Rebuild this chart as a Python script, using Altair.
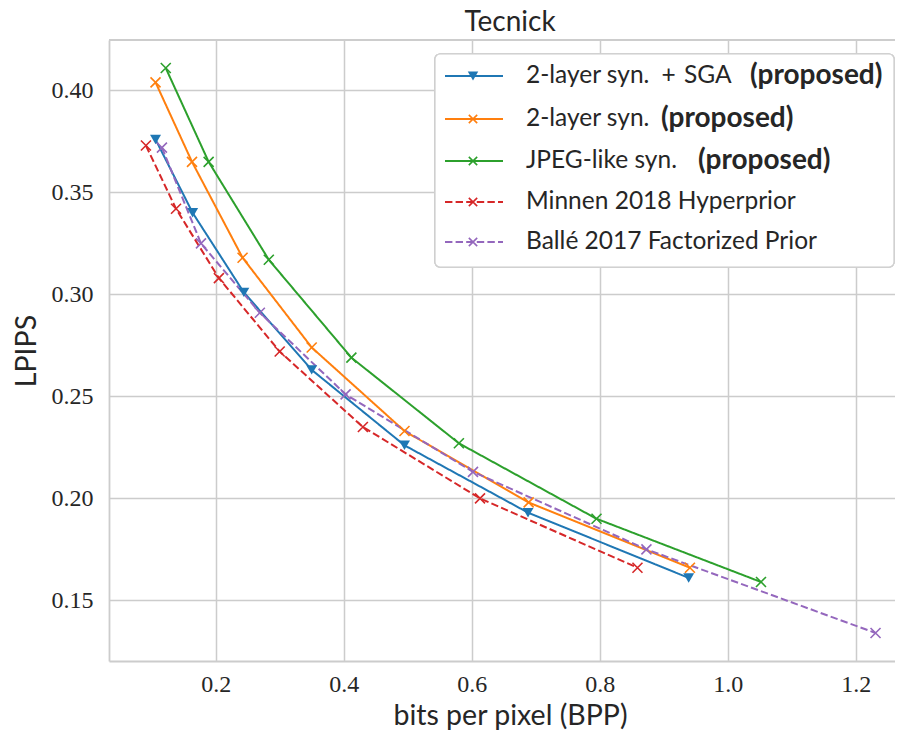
import altair as alt
import pandas as pd

# ---------------- data ----------------
series_names = [
    "2-layer syn. + SGA (proposed)",
    "2-layer syn. (proposed)",
    "JPEG-like syn. (proposed)",
    "Minnen 2018 Hyperprior",
    "Ballé 2017 Factorized Prior",
]
bpp_sga = [0.106, 0.164, 0.244, 0.350, 0.495, 0.688, 0.939]
lpips_sga = [0.376, 0.340, 0.301, 0.263, 0.226, 0.193, 0.161]
bpp_2layer = [0.106, 0.163, 0.242, 0.350, 0.495, 0.689, 0.941]
lpips_2layer = [0.404, 0.365, 0.318, 0.274, 0.233, 0.198, 0.166]
bpp_jpeg = [0.122, 0.189, 0.283, 0.412, 0.580, 0.795, 1.052]
lpips_jpeg = [0.411, 0.365, 0.317, 0.269, 0.227, 0.190, 0.159]
bpp_minnen = [0.091, 0.138, 0.205, 0.300, 0.430, 0.613, 0.859]
lpips_minnen = [0.373, 0.342, 0.308, 0.272, 0.235, 0.200, 0.166]
bpp_balle = [0.116, 0.177, 0.269, 0.403, 0.602, 0.873, 1.231]
lpips_balle = [0.372, 0.325, 0.291, 0.251, 0.213, 0.175, 0.134]

x_ticks = [0.2, 0.4, 0.6, 0.8, 1.0, 1.2]
y_ticks = [0.15, 0.20, 0.25, 0.30, 0.35, 0.40]

legend_regular = [
    "2-layer syn.\u2002+\u2004SGA",
    "2-layer syn.",
    "JPEG-like syn.",
    "Minnen 2018 Hyperprior",
    "Ballé 2017 Factorized Prior",
]
legend_bold = ["(proposed)", "(proposed)", "(proposed)", "", ""]

# ---------------- styles / layout ----------------
colors = ["#1f77b4", "#ff7f0e", "#2ca02c", "#d62728", "#9467bd"]
dashes = [[1, 0], [1, 0], [1, 0], [7.4, 3.2], [7.4, 3.2]]
XPATH = "M-1,-1L1,1M-1,1L1,-1"
SANS = "Lato"
SERIF = "Liberation Serif, Times New Roman, serif"
TXT = "#262626"
GRID = "#cccccc"

W, H = 786, 621
X_DOMAIN = [0.0333, 1.2614]
Y_DOMAIN = [0.12025, 0.42475]
CENTER_X = 401  # the reference's plot extends past the right edge of the page

# legend layout (pixels in view coordinates)
LEG_X0, LEG_X1, LEG_Y0, LEG_Y1 = 326, 785, 14, 227
LEG_ROW_Y = [36, 79, 121, 162, 202]
LEG_LINE_X0, LEG_LINE_X1, LEG_MARK_X, LEG_TEXT_X = 336, 394, 364, 417
LEG_BOLD_X = [641, 552, 589, 0, 0]

# ---------------- build tables ----------------
all_x = [bpp_sga, bpp_2layer, bpp_jpeg, bpp_minnen, bpp_balle]
all_y = [lpips_sga, lpips_2layer, lpips_jpeg, lpips_minnen, lpips_balle]
rows = []
for i, name in enumerate(series_names):
    for xv, yv in zip(all_x[i], all_y[i]):
        rows.append({"series": name, "bpp": xv, "lpips": yv, "order": i})
df = pd.DataFrame(rows)

color_scale = alt.Scale(domain=series_names, range=colors)
dash_scale = alt.Scale(domain=series_names, range=dashes)

xenc = alt.X(
    "bpp:Q",
    scale=alt.Scale(domain=X_DOMAIN, nice=False, zero=False),
    axis=alt.Axis(title="bits per pixel (BPP)", values=x_ticks, format=".1f",
                  titleX=CENTER_X),
)
yenc = alt.Y(
    "lpips:Q",
    scale=alt.Scale(domain=Y_DOMAIN, nice=False, zero=False),
    axis=alt.Axis(title="LPIPS", values=y_ticks, format=".2f"),
)

base = alt.Chart(df)

lines = base.mark_line(strokeWidth=2, clip=True).encode(
    x=xenc,
    y=yenc,
    color=alt.Color("series:N", scale=color_scale, legend=None),
    strokeDash=alt.StrokeDash("series:N", scale=dash_scale, legend=None),
    detail="series:N",
    order="bpp:Q",
)

tri = base.transform_filter(alt.datum.order == 0).mark_point(
    shape="triangle-down", filled=True, size=120, opacity=1
).encode(
    x="bpp:Q",
    y="lpips:Q",
    color=alt.Color("series:N", scale=color_scale, legend=None),
)

crosses = base.transform_filter(alt.datum.order > 0).mark_point(
    shape=XPATH, filled=False, size=100, strokeWidth=1.6, opacity=1
).encode(
    x="bpp:Q",
    y="lpips:Q",
    color=alt.Color("series:N", scale=color_scale, legend=None),
)

top_border = alt.Chart(df).mark_rule(color=GRID, strokeWidth=1.5).encode(
    x=alt.value(0), x2=alt.value(W), y=alt.value(0)
)

# ---------------- manual legend (mixed regular / bold labels) ----------------
leg_rows = []
for i, name in enumerate(series_names):
    leg_rows.append({
        "series": name,
        "reg": legend_regular[i],
        "bold": legend_bold[i],
        "ly": LEG_ROW_Y[i],
        "bx": LEG_BOLD_X[i],
        "lx0": LEG_LINE_X0,
        "lx1": LEG_LINE_X1,
        "mx": LEG_MARK_X,
        "tx": LEG_TEXT_X,
        "idx": i,
    })
ldf = pd.DataFrame(leg_rows)
lbase = alt.Chart(ldf)

leg_box = alt.Chart(ldf).mark_rect(
    fill="white", fillOpacity=0.8, stroke="#d0d0d0", strokeWidth=1.2, cornerRadius=5
).encode(
    x=alt.value(LEG_X0), x2=alt.value(LEG_X1), y=alt.value(LEG_Y0), y2=alt.value(LEG_Y1)
)

leg_lines = lbase.mark_rule(strokeWidth=2).encode(
    x=alt.X("lx0:Q", scale=None),
    x2="lx1:Q",
    y=alt.Y("ly:Q", scale=None),
    color=alt.Color("series:N", scale=color_scale, legend=None),
    strokeDash=alt.StrokeDash("series:N", scale=dash_scale, legend=None),
)

leg_tri = lbase.transform_filter(alt.datum.idx == 0).mark_point(
    shape="triangle-down", filled=True, size=110, opacity=1
).encode(
    x=alt.X("mx:Q", scale=None),
    y=alt.Y("ly:Q", scale=None),
    color=alt.Color("series:N", scale=color_scale, legend=None),
)
leg_x = lbase.transform_filter(alt.datum.idx > 0).mark_point(
    shape=XPATH, filled=False, size=70, strokeWidth=1.6, opacity=1
).encode(
    x=alt.X("mx:Q", scale=None),
    y=alt.Y("ly:Q", scale=None),
    color=alt.Color("series:N", scale=color_scale, legend=None),
)

leg_text = lbase.mark_text(
    align="left", baseline="middle", font=SANS, fontSize=24.5, color=TXT
).encode(
    x=alt.X("tx:Q", scale=None),
    y=alt.Y("ly:Q", scale=None),
    text="reg:N",
)
leg_bold = lbase.transform_filter(alt.datum.bold != "").mark_text(
    align="left", baseline="middle", font=SANS, fontSize=28, fontWeight="bold", color=TXT
).encode(
    x=alt.X("bx:Q", scale=None),
    y=alt.Y("ly:Q", scale=None),
    text="bold:N",
)

chart = alt.layer(
    top_border, lines, tri, crosses,
    leg_box, leg_lines, leg_tri, leg_x, leg_text, leg_bold,
).properties(
    width=W,
    height=H,
    title=alt.TitleParams(
        "Tecnick", font=SANS, fontSize=28, fontWeight="normal", color=TXT,
        anchor="middle", offset=2, dx=CENTER_X - W / 2,
    ),
    autosize=alt.AutoSizeParams(type="none"),
    padding={"left": 101, "top": 32, "right": 0, "bottom": 70},
).configure_view(
    stroke=None
).configure_axis(
    grid=True,
    gridColor=GRID,
    gridWidth=1.5,
    domain=True,
    domainColor=GRID,
    domainWidth=1.8,
    ticks=False,
    labelFont=SERIF,
    labelFontSize=24,
    labelColor=TXT,
    titleFont=SANS,
    titleFontSize=28.5,
    titleFontWeight="normal",
    titleColor=TXT,
).configure_axisX(
    labelPadding=11,
    titlePadding=5,
).configure_axisY(
    labelPadding=16,
    titlePadding=10,
)

chart.save("out.html", embed_options={"renderer": "svg", "actions": False})
